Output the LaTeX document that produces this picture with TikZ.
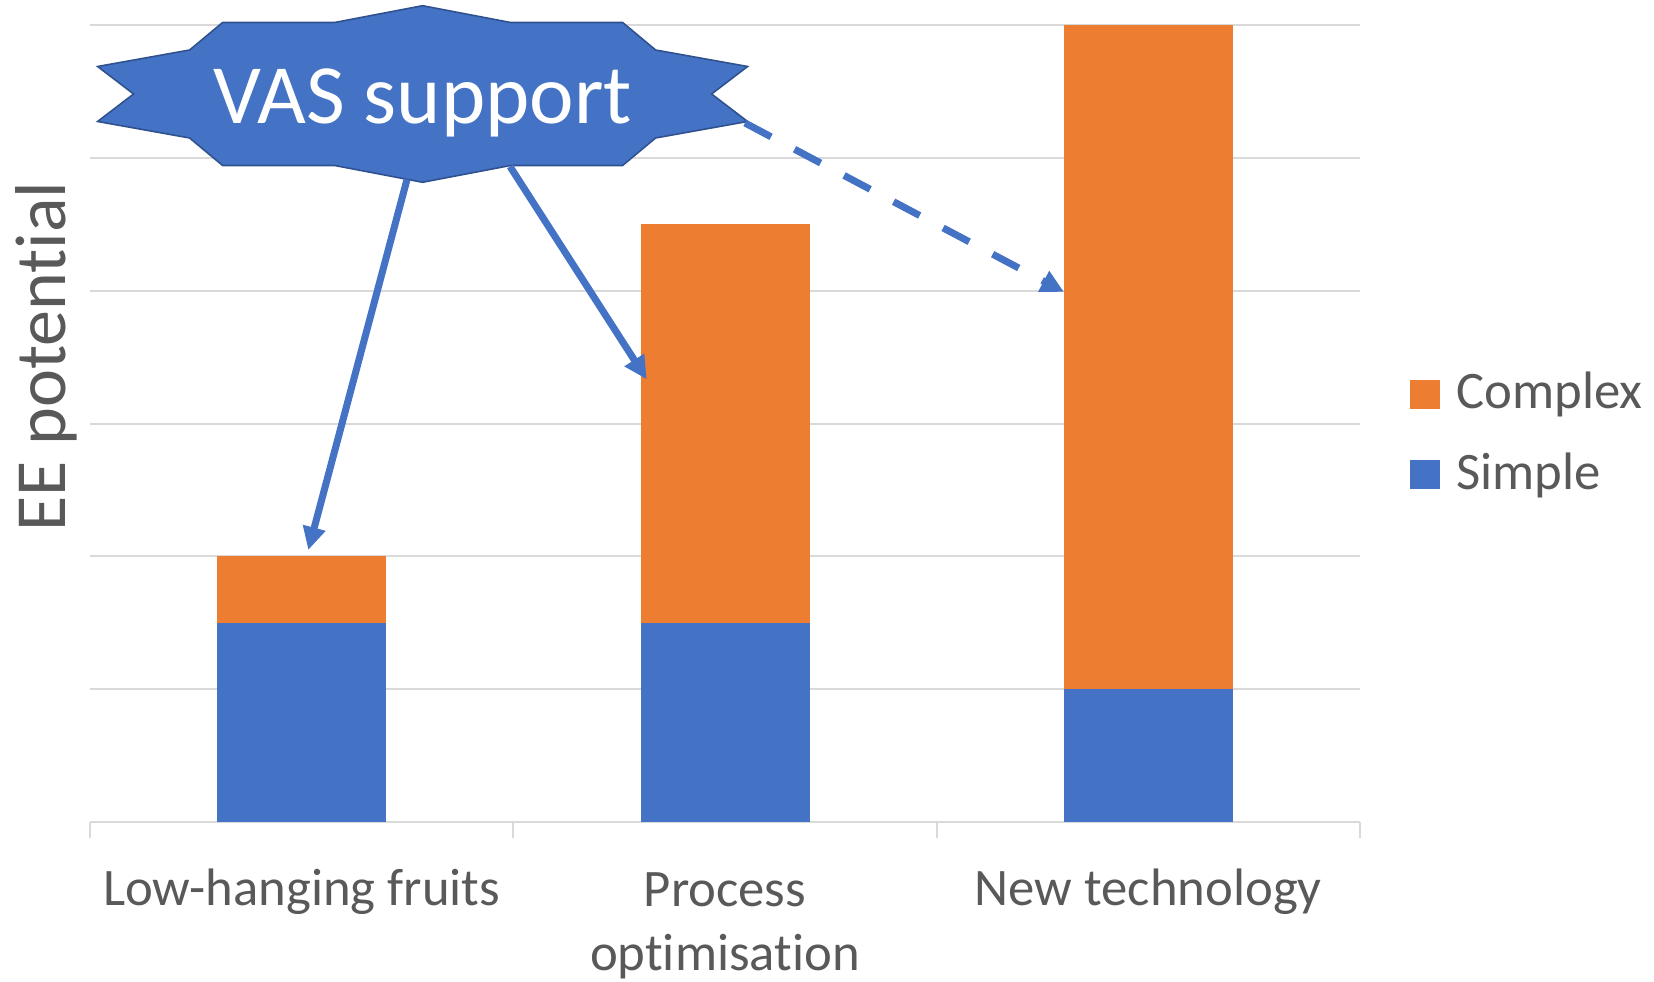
\documentclass[tikz,border=0pt]{standalone}
\usepackage{fontspec}
\setmainfont[Ligatures={NoCommon}]{Carlito}
\usetikzlibrary{arrows.meta}
\definecolor{barblue}{HTML}{4472C4}
\definecolor{barorange}{HTML}{ED7D31}
\definecolor{starline}{HTML}{2F528F}
\definecolor{gridgray}{HTML}{D9D9D9}
\definecolor{textgray}{HTML}{595959}

\begin{document}
\begin{tikzpicture}[x=0.02cm,y=-0.02cm,every node/.style={inner sep=0pt, text=textgray},
    catlabel/.style={font=\fontsize{30}{36.4}\selectfont, align=center, anchor=base},
    legtext/.style={font=\fontsize{30}{36}\selectfont, anchor=base west},
    gridline/.style={gridgray, line width=1.2pt},
    vasarrow/.style={barblue, line width=4pt, -{Triangle[length=0.46cm,width=0.44cm]}}]
    \useasboundingbox (0,0) rectangle (1654,982);

    \foreach \y in {1,...,6}
      \draw[gridline] (90,{822-\y*132.8}) -- (1360,{822-\y*132.8});
    \draw[gridline] (90,822) -- (1360,822);
    \foreach \x in {90,513.3,936.7,1360}
      \draw[gridline] (\x,822) -- (\x,838);

    \foreach \c/\s/\t in {301.7/1.5/2.0, 725/1.5/4.5, 1148.3/1.0/6.0} {
      \fill[barblue] (\c-84.5,822) rectangle (\c+84.5,{822-\s*132.8});
      \fill[barorange] (\c-84.5,{822-\s*132.8}) rectangle (\c+84.5,{822-\t*132.8});
    }

    \node[catlabel] (low)     at (301.7,906)  {Low-hanging fruits};
    \node[catlabel] (proc)    at (725,970)    {Process\\optimisation};
    \node[catlabel] (newtech) at (1148.3,906) {New technology};

    \node[font=\fontsize{41}{49}\selectfont, rotate=90, anchor=base] (eepot) at (65,356.7) {EE potential};

    \fill[barorange] (1410,380) rectangle (1440,409);
    \node[legtext] (complex) at (1456,409) {Complex};
    \fill[barblue] (1410,460) rectangle (1440,489);
    \node[legtext] (simple) at (1456,490) {Simple};

    \begin{scope}[shift={(422.6,94)}]
      \draw[fill=barblue, draw=starline, line width=0.9pt]
        (-325,-27.5) -- (-233,-44) -- (-200,-71.5) -- (-88,-71.5) -- (0,-88.3) -- (88,-71.5)
        -- (200,-71.5) -- (233,-44) -- (325,-27.5) -- (289,0) -- (325,27.5) -- (233,44)
        -- (200,71.5) -- (88,71.5) -- (0,88.3) -- (-88,71.5) -- (-200,71.5) -- (-233,44)
        -- (-325,27.5) -- (-289,0) -- cycle;
    \end{scope}
    \node[text=white, font=\fontsize{48}{58}\selectfont, anchor=base] (vas) at (422.6,123.3) {VAS support};

    \coordinate (vasleft)  at (407,179.5);
    \coordinate (vasmid)   at (510,166.5);
    \coordinate (vasright) at (745,123);
    \coordinate (lowtop)   at (308.3,550);
    \coordinate (proctop)  at (646.7,379.3);
    \coordinate (newtop)   at (1064,292);

    \draw[vasarrow] (vasleft) -- (lowtop);
    \draw[vasarrow] (vasmid) -- (proctop);
    \draw[vasarrow, dash pattern=on 16.8pt off 15.1pt] (vasright) -- (newtop);
\end{tikzpicture}
\end{document}
